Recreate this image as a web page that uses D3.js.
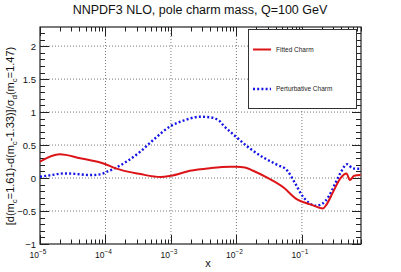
<!DOCTYPE html>
<html>
<head>
<meta charset="utf-8">
<script src="https://cdn.jsdelivr.net/npm/d3@7"></script>
<style>
  body { margin: 0; background: #fff; }
  text { font-family: "Liberation Sans", Arial, sans-serif; }
</style>
</head>
<body>
<div id="chart"></div>
<script>
"use strict";

// fitted charm (red, solid)
const fittedX = [1e-5, 2.0e-5, 4.1e-5, 1e-4, 1.4e-4, 3.4e-4, 7e-4, 1e-3, 1.95e-3, 4e-3, 8.1e-3, 0.01, 0.0135, 0.018, 0.029, 0.052, 0.083, 0.135, 0.21, 0.235, 0.30, 0.39, 0.48, 0.54, 0.63, 0.79];
const fittedY = [0.25, 0.36, 0.30, 0.21, 0.15, 0.06, 0.015, 0.035, 0.11, 0.15, 0.17, 0.17, 0.16, 0.11, 0.01, -0.14, -0.32, -0.40, -0.46, -0.41, -0.21, 0.0, 0.07, -0.03, 0.035, 0.045];

// perturbative charm (blue, dotted)
const pertX = [1e-5, 1.4e-5, 2.3e-5, 3.2e-5, 5.8e-5, 8.3e-5, 1.05e-4, 1.4e-4, 2.1e-4, 3.4e-4, 5.4e-4, 1e-3, 1.55e-3, 2.8e-3, 4e-3, 5.6e-3, 6.3e-3, 8.1e-3, 0.01, 0.016, 0.026, 0.042, 0.059, 0.079, 0.1, 0.126, 0.162, 0.204, 0.257, 0.324, 0.39, 0.49, 0.59, 0.71, 0.79];
const pertY = [0.02, 0.04, 0.07, 0.065, 0.045, 0.055, 0.095, 0.15, 0.25, 0.40, 0.58, 0.79, 0.87, 0.93, 0.92, 0.86, 0.80, 0.70, 0.62, 0.45, 0.31, 0.20, 0.12, -0.08, -0.26, -0.37, -0.42, -0.39, -0.28, -0.08, 0.08, 0.21, 0.15, 0.14, 0.14];

const yTicks = [-1, -0.5, 0, 0.5, 1, 1.5, 2];
const xDecades = [-5, -4, -3, -2, -1];
const legendNames = ["Fitted Charm", "Perturbative Charm"];

const W = 401, H = 272;
const margin = { top: 27, right: 40, bottom: 28, left: 40 };
const width = W - margin.left - margin.right,
  height = H - margin.top - margin.bottom;

const svg = d3.select("#chart").append("svg")
  .attr("width", W).attr("height", H);

const x = d3.scaleLog().domain([1e-5, 0.8]).range([0, width]);
const y = d3.scaleLinear().domain([-1, 2.29]).range([height, 0]);

const g = svg.append("g")
  .attr("transform", "translate(" + margin.left + "," + margin.top + ")");

// grid
g.selectAll(".vgrid").data(xDecades.slice(1)).enter().append("line")
  .attr("x1", d => x(Math.pow(10, d))).attr("x2", d => x(Math.pow(10, d)))
  .attr("y1", 0).attr("y2", height)
  .attr("stroke", "#555").attr("stroke-width", 0.8).attr("stroke-dasharray", "1,2");
g.selectAll(".hgrid").data(yTicks.slice(1)).enter().append("line")
  .attr("x1", 0).attr("x2", width)
  .attr("y1", d => y(d)).attr("y2", d => y(d))
  .attr("stroke", "#555").attr("stroke-width", 0.8).attr("stroke-dasharray", "1,2");

// ticks (inward, all four sides)
const yMinor = d3.range(-1, 2.29, 0.1);
const xMinor = [];
xDecades.forEach(dd => { for (let k = 1; k < 10; k++) { const v = k * Math.pow(10, dd); if (v <= 0.8) xMinor.push(v); } });

const ticks = g.append("g").attr("stroke", "#222").attr("stroke-width", 1);
yMinor.forEach(v => {
  const major = yTicks.some(t => Math.abs(t - v) < 1e-6);
  const len = major ? 9 : 5;
  const yy = Math.round(y(v)) + 0.5;
  ticks.append("line").attr("x1", 0).attr("x2", len).attr("y1", yy).attr("y2", yy);
  ticks.append("line").attr("x1", width).attr("x2", width - len).attr("y1", yy).attr("y2", yy);
});
xMinor.forEach(v => {
  const major = Math.abs(Math.log10(v) - Math.round(Math.log10(v))) < 1e-6;
  const len = major ? 9 : 4.5;
  const xx = Math.round(x(v)) + 0.5;
  ticks.append("line").attr("x1", xx).attr("x2", xx).attr("y1", height).attr("y2", height - len);
  ticks.append("line").attr("x1", xx).attr("x2", xx).attr("y1", 0).attr("y2", len);
});

// frame
g.append("rect").attr("x", 0).attr("y", 0).attr("width", width).attr("height", height)
  .attr("fill", "none").attr("stroke", "#222").attr("stroke-width", 1.2);

// y tick labels
g.selectAll(".ylab").data(yTicks).enter().append("text")
  .attr("x", -4).attr("y", d => y(d) + 3.5)
  .attr("text-anchor", "end").attr("font-size", 9.5).attr("fill", "#111")
  .text(d => d < 0 ? "\u2212" + Math.abs(d) : d);

// x tick labels 10^n
const xl = g.selectAll(".xlab").data(xDecades).enter().append("text")
  .attr("x", d => x(Math.pow(10, d)) - 2).attr("y", height + 14)
  .attr("text-anchor", "middle").attr("font-size", 8.5).attr("fill", "#111");
xl.append("tspan").text("10");
xl.append("tspan").attr("dy", -4).attr("font-size", 6.5).text(d => "\u2212" + Math.abs(d));

// curves
const line = d3.line().curve(d3.curveMonotoneX).x(d => x(d[0])).y(d => y(d[1]));
g.append("path").datum(pertX.map((v, i) => [v, pertY[i]]))
  .attr("d", line).attr("fill", "none")
  .attr("stroke", "#1414e6").attr("stroke-width", 2.4).attr("stroke-dasharray", "2,2.2");
g.append("path").datum(fittedX.map((v, i) => [v, fittedY[i]]))
  .attr("d", line).attr("fill", "none")
  .attr("stroke", "#dc1418").attr("stroke-width", 2);

// legend
const lg = svg.append("g");
lg.append("rect").attr("x", 248.5).attr("y", 29.5).attr("width", 108).attr("height", 79)
  .attr("fill", "#fff").attr("stroke", "#333").attr("stroke-width", 1);
const legY = [49.5, 89];
lg.append("line").attr("x1", 253).attr("x2", 271).attr("y1", legY[0]).attr("y2", legY[0])
  .attr("stroke", "#dc1418").attr("stroke-width", 2);
lg.append("line").attr("x1", 253).attr("x2", 271).attr("y1", legY[1]).attr("y2", legY[1])
  .attr("stroke", "#1414e6").attr("stroke-width", 2.4).attr("stroke-dasharray", "2,2.2");
lg.selectAll(".legtext").data(legendNames).enter().append("text")
  .attr("x", 276).attr("y", (d, i) => legY[i] + 2.3)
  .attr("font-size", 6.5).attr("fill", "#222").text(d => d);

// title
svg.append("text").attr("x", 200).attr("y", 14).attr("text-anchor", "middle")
  .attr("font-size", 12.5).attr("fill", "#111")
  .text("NNPDF3 NLO, pole charm mass, Q=100 GeV");

// x axis title
svg.append("text").attr("x", 208).attr("y", 267).attr("text-anchor", "middle")
  .attr("font-size", 11).attr("fill", "#111").text("x");

// y axis title
const yt = svg.append("text").attr("transform", "translate(14,136) rotate(-90)")
  .attr("text-anchor", "middle").attr("font-size", 11).attr("fill", "#111");
yt.append("tspan").text("[d(m");
yt.append("tspan").attr("dy", 3).attr("font-size", 8).text("c");
yt.append("tspan").attr("dy", -3).text("=1.61)-d(m");
yt.append("tspan").attr("dy", 3).attr("font-size", 8).text("c");
yt.append("tspan").attr("dy", -3).text("-1.33)]/\u03c3");
yt.append("tspan").attr("dy", 3).attr("font-size", 8).text("d");
yt.append("tspan").attr("dy", -3).text("(m");
yt.append("tspan").attr("dy", 3).attr("font-size", 8).text("c");
yt.append("tspan").attr("dy", -3).text("=1.47)");
</script>
</body>
</html>
